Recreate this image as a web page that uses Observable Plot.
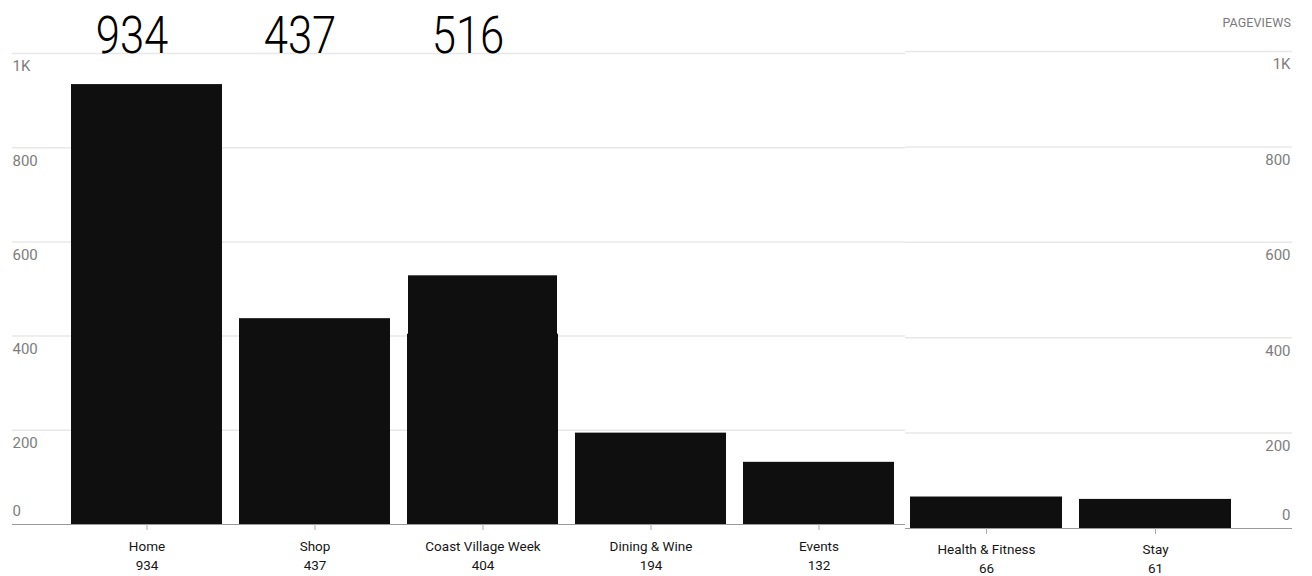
<!DOCTYPE html>
<html>
<head>
<meta charset="utf-8">
<script src="https://cdn.jsdelivr.net/npm/d3@7"></script>
<script src="https://cdn.jsdelivr.net/npm/@observablehq/plot@0.6"></script>
<style>
  html, body { margin: 0; padding: 0; background: #fff; }
  #wrap { position: relative; width: 1312px; height: 576px; overflow: hidden; font-family: Roboto, "Noto Sans", sans-serif; }
  #wrap svg { position: absolute; top: 0; left: 0; background: transparent; }
  #pv { position: absolute; top: 15px; right: 21px; font: 400 12.5px Roboto, sans-serif; color: #7a7a7a; letter-spacing: 0.1px; }
</style>
</head>
<body>
<div id="wrap"><div id="pv">PAGEVIEWS</div></div>
<script>
// Left panel data
const leftCategories = ["Home", "Shop", "Coast Village Week", "Dining & Wine", "Events"];
const leftValues = [934, 437, 404, 194, 132];
// Overlay patch on Coast Village Week bar (as drawn in the picture)
const overlayCategories = ["Coast Village Week"];
const overlayValues = [528];
// Right panel data
const rightCategories = ["Health & Fitness", "Stay"];
const rightValues = [66, 61];
// Big headline numbers at the top
const bigCategories = ["Home", "Shop", "Coast Village Week"];
const bigLabels = ["934", "437", "516"];
// Y tick values
const yTicks = [0, 200, 400, 600, 800, 1000];
const yFmt = d => d === 1000 ? "1K" : String(d);

const leftData = leftCategories.map((c, i) => ({c, v: leftValues[i]}));
const overlayData = overlayCategories.map((c, i) => ({c, v: overlayValues[i]}));
const rightData = rightCategories.map((c, i) => ({c, v: rightValues[i]}));
const bigData = bigCategories.map((c, i) => ({c, t: bigLabels[i]}));
const valueOf = Object.fromEntries([...leftData, ...rightData].map(d => [d.c, d.v]));

const gridColor = "#e8e8e8";
const axisGray = "#7d7d7d";
const barFill = "#0f0f0f";

function panel({data, cats, width, height, marginTop, marginBottom, marginLeft, marginRight, xRange, side, tickPadding, extra}) {
  const gridTicks = yTicks.filter(d => d > 0);
  return Plot.plot({
    width, height, marginTop, marginBottom, marginLeft, marginRight,
    style: {background: "transparent", fontFamily: "Roboto, sans-serif", overflow: "visible"},
    x: {domain: cats, range: xRange, paddingInner: 0.1, paddingOuter: 0.05, axis: null},
    y: {domain: [0, 1000], axis: null},
    marks: [
      Plot.ruleY(gridTicks, {stroke: gridColor, strokeWidth: 1.5}),
      Plot.barY(data, {x: "c", y: "v", fill: barFill}),
      ...(extra || []),
      Plot.ruleY([0], {stroke: "#9a9a9a", strokeWidth: 1.2}),
      Plot.axisX({
        label: null,
        tickSize: 6, tickPadding, stroke: "#aaa",
        tickFormat: c => `${c}\n${valueOf[c]}`,
        fontSize: 13.5, lineHeight: 1.4, fill: "#161616", fontFamily: "Roboto, sans-serif"
      }),
      Plot.text(gridTicks, {
        y: d => d, text: yFmt, frameAnchor: side,
        textAnchor: side === "left" ? "start" : "end",
        dx: side === "left" ? 0 : -2, dy: 13,
        fill: axisGray, fontSize: 15
      }),
      Plot.text([0], {
        y: d => d, text: yFmt, frameAnchor: side,
        textAnchor: side === "left" ? "start" : "end",
        dx: side === "left" ? 0 : -2, dy: -13,
        fill: axisGray, fontSize: 15
      })
    ]
  });
}

const left = panel({
  data: leftData, cats: leftCategories,
  width: 905, height: 576, marginTop: 53, marginBottom: 52, marginLeft: 12, marginRight: 0,
  xRange: [63, 903], side: "left", tickPadding: 7,
  extra: [
    Plot.barY(overlayData, {x: "c", y: "v", fill: barFill, insetLeft: 1, insetRight: 1}),
    Plot.text(bigData, {
      x: "c", text: "t", frameAnchor: "top", lineAnchor: "bottom", dy: -1, dx: -15,
      fontSize: 52, fill: "#000", fontWeight: 300,
      fontFamily: "Roboto, sans-serif"
    })
  ]
});

const right = panel({
  data: rightData, cats: rightCategories,
  width: 1312, height: 576, marginTop: 51, marginBottom: 48, marginLeft: 905, marginRight: 20,
  xRange: [901.5, 1239.5], side: "right", tickPadding: 6
});

// Condense the big headline numbers horizontally (narrow display face look)
const squeeze = 0.84;
d3.select(left).selectAll('g[font-size="52"] text').each(function() {
  const t = d3.select(this);
  const x = +t.attr("x") || 0;
  const tr = t.attr("transform") || "";
  const m = /translate\(([-\d.]+),([-\d.]+)\)/.exec(tr);
  if (m) {
    t.attr("transform", `translate(${m[1]},${m[2]}) scale(${squeeze},1)`);
  } else {
    t.attr("x", x / squeeze).attr("transform", `scale(${squeeze},1)`);
  }
});

const wrap = document.getElementById("wrap");
wrap.appendChild(left);
wrap.appendChild(right);
</script>
</body>
</html>
